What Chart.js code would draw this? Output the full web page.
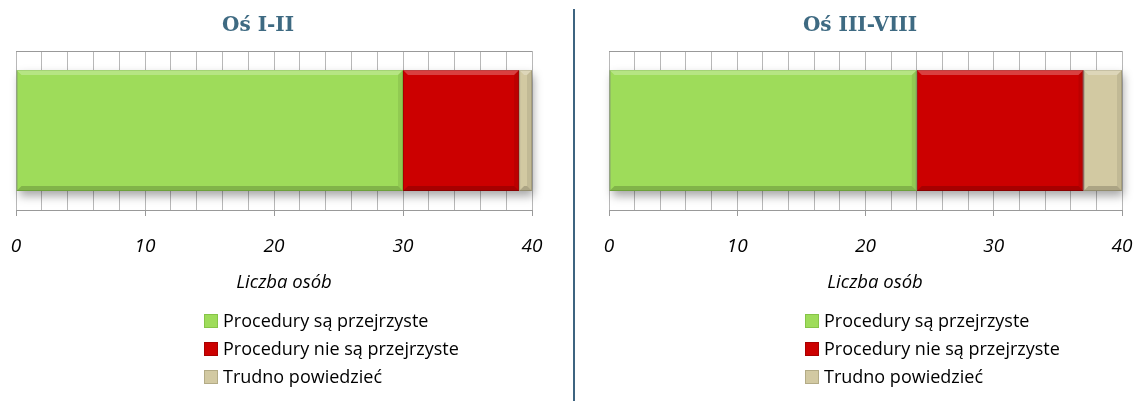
<!DOCTYPE html>
<html>
<head>
<meta charset="utf-8">
<script src="https://cdn.jsdelivr.net/npm/chart.js@4.4.1/dist/chart.umd.min.js"></script>
<style>
  body { margin: 0; background: #fff; font-family: "Open Sans", "Liberation Sans", sans-serif; }
  #page { position: relative; width: 1134px; height: 401px; overflow: hidden; }
  .panel { position: absolute; top: 0; height: 401px; }
  .panel canvas { position: absolute; top: 0; left: 0; }
  .title { position: absolute; top: 12px; line-height: 24px; font-family: "DejaVu Serif", serif; font-weight: bold;
           font-size: 20px; color: #3e6a82; transform: translateX(-50%); white-space: nowrap; }
  .axis-title { position: absolute; top: 268px; line-height: 26px; font-style: italic; font-size: 18.5px; color: #000;
                transform: translateX(-50%); white-space: nowrap; }
  .legend { position: absolute; top: 308px; font-size: 18px; color: #000; }
  .legend div { height: 28px; line-height: 24px; white-space: nowrap; }
  .legend span { display: inline-block; width: 12px; height: 12px; margin-right: 5px; vertical-align: -1px; }
  #divider { position: absolute; left: 573px; top: 9px; width: 2px; height: 392px; background: #3e6480; }
</style>
</head>
<body>
<div id="page">
  <div class="panel" id="left" style="left:0; width:560px;">
    <canvas id="chart-left" width="560" height="270"></canvas>
  </div>
  <div id="divider"></div>
  <div class="panel" id="right" style="left:580px; width:554px;">
    <canvas id="chart-right" width="554" height="270"></canvas>
  </div>
</div>
<script>
// data
const categories = ['Oś I-II', 'Oś III-VIII'];
const seriesNames = ['Procedury są przejrzyste', 'Procedury nie są przejrzyste', 'Trudno powiedzieć'];
const transparentValues = [30, 24];
const notTransparentValues = [9, 13];
const hardToSayValues = [1, 3];
const tickLabels = [0, 10, 20, 30, 40];
const axisTitle = 'Liczba osób';

const seriesValues = [transparentValues, notTransparentValues, hardToSayValues];
const seriesColors = ['#9edc5a', '#cc0000', '#d2c9a2'];
const seriesBorders = ['#86c448', '#a80000', '#b3ab86'];

// drop shadow under the whole stacked bar
const shadowPlugin = {
    id: 'stackShadow',
    beforeDatasetsDraw(chart) {
        const bars = chart.data.datasets.map((ds, i) => chart.getDatasetMeta(i).data[0]);
        const left = Math.min(...bars.map(b => Math.min(b.base, b.x)));
        const right = Math.max(...bars.map(b => Math.max(b.base, b.x)));
        const top = bars[0].y - bars[0].height / 2;
        const ctx = chart.ctx;
        ctx.save();
        ctx.shadowColor = 'rgba(0,0,0,0.35)';
        ctx.shadowBlur = 9;
        ctx.shadowOffsetX = 2;
        ctx.shadowOffsetY = 5;
        ctx.fillStyle = '#888';
        ctx.fillRect(left, top, right - left, bars[0].height);
        ctx.restore();
    }
};

// simple bevel look like the office bars
const bevelPlugin = {
    id: 'bevel',
    afterDatasetsDraw(chart) {
        const ctx = chart.ctx;
        chart.data.datasets.forEach((ds, i) => {
            chart.getDatasetMeta(i).data.forEach(bar => {
                const left = Math.min(bar.base, bar.x);
                const right = Math.max(bar.base, bar.x);
                const top = bar.y - bar.height / 2;
                const bottom = bar.y + bar.height / 2;
                const b = 5;
                ctx.save();
                ctx.fillStyle = 'rgba(255,255,255,0.25)';
                ctx.beginPath();
                ctx.moveTo(left, top); ctx.lineTo(right, top);
                ctx.lineTo(right - b, top + b); ctx.lineTo(left + b, top + b);
                ctx.closePath(); ctx.fill();
                ctx.fillStyle = 'rgba(0,0,0,0.18)';
                ctx.beginPath();
                ctx.moveTo(left, bottom); ctx.lineTo(right, bottom);
                ctx.lineTo(right - b, bottom - b); ctx.lineTo(left + b, bottom - b);
                ctx.closePath(); ctx.fill();
                ctx.fillStyle = 'rgba(0,0,0,0.08)';
                ctx.beginPath();
                ctx.moveTo(right, top); ctx.lineTo(right, bottom);
                ctx.lineTo(right - b, bottom - b); ctx.lineTo(right - b, top + b);
                ctx.closePath(); ctx.fill();
                ctx.restore();
            });
        });
    }
};

function createPanelChart(canvasId, panelId, index, padLeft, padRight, pos) {
    const ctx = document.getElementById(canvasId).getContext('2d');

    const chart = new Chart(ctx, {
        type: 'bar',
        data: {
            labels: [categories[index]],
            datasets: seriesNames.map((name, i) => ({
                label: name,
                data: [seriesValues[i][index]],
                backgroundColor: seriesColors[i],
                borderColor: seriesBorders[i],
                borderWidth: 1,
                borderSkipped: false,
                barPercentage: 1,
                categoryPercentage: 0.76
            }))
        },
        plugins: [shadowPlugin, bevelPlugin],
        options: {
            indexAxis: 'y',
            responsive: false,
            animation: false,
            layout: {
                padding: { left: padLeft, right: padRight, top: 51, bottom: 0 }
            },
            scales: {
                x: {
                    stacked: true,
                    min: tickLabels[0],
                    max: tickLabels[tickLabels.length - 1],
                    afterFit: scale => {
                        scale.height = 60;
                        scale.paddingLeft = 0;
                        scale.paddingRight = 0;
                    },
                    grid: {
                        color: '#b8b8b8',
                        tickLength: 6,
                        tickColor: c => (tickLabels.includes(c.tick && c.tick.value) ? '#999' : 'rgba(0,0,0,0)')
                    },
                    border: { color: '#999' },
                    ticks: {
                        stepSize: 2,
                        autoSkip: false,
                        maxRotation: 0,
                        padding: 19,
                        color: '#000',
                        font: { family: '"Open Sans", "Liberation Sans", sans-serif', size: 19, style: 'italic' },
                        callback: v => (tickLabels.includes(v) ? v : '')
                    }
                },
                y: {
                    stacked: true,
                    afterFit: scale => { scale.width = 0; },
                    grid: { offset: true, color: '#999', drawTicks: false },
                    border: { display: false },
                    ticks: { display: false }
                }
            },
            plugins: {
                legend: { display: false },
                title: { display: false },
                tooltip: { enabled: false }
            }
        }
    });

    // titles and legend as html text around the canvas
    const panel = document.getElementById(panelId);

    const title = document.createElement('div');
    title.className = 'title';
    title.style.left = pos.title + 'px';
    title.textContent = categories[index];
    panel.appendChild(title);

    const xTitle = document.createElement('div');
    xTitle.className = 'axis-title';
    xTitle.style.left = pos.axisTitle + 'px';
    xTitle.textContent = axisTitle;
    panel.appendChild(xTitle);

    const legend = document.createElement('div');
    legend.className = 'legend';
    legend.style.left = pos.legend + 'px';
    seriesNames.forEach((name, i) => {
        const row = document.createElement('div');
        const box = document.createElement('span');
        box.style.background = seriesColors[i];
        box.style.border = '1px solid ' + seriesBorders[i];
        row.appendChild(box);
        row.appendChild(document.createTextNode(name));
        legend.appendChild(row);
    });
    panel.appendChild(legend);

    return chart;
}

createPanelChart('chart-left', 'left', 0, 16, 28, { title: 258, axisTitle: 284, legend: 204 });
createPanelChart('chart-right', 'right', 1, 29, 12, { title: 280, axisTitle: 295, legend: 225 });
</script>
</body>
</html>
